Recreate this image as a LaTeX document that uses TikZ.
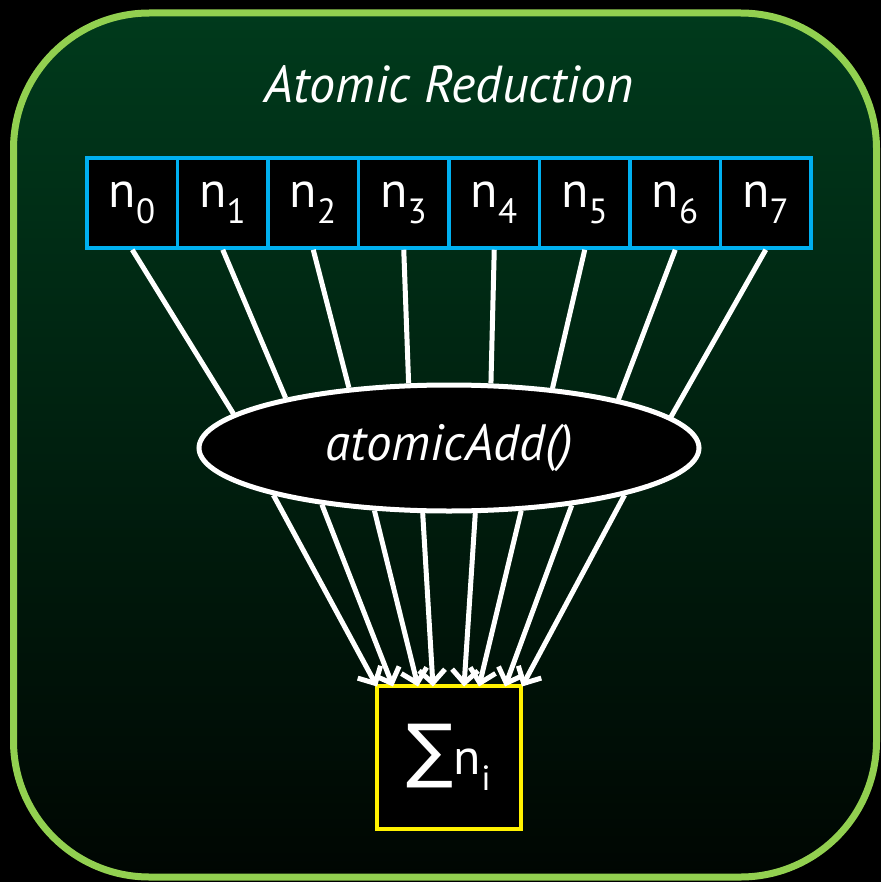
\documentclass[tikz,border=0pt]{standalone}
\usepackage{fontspec}
\setmainfont{PT Sans}
\newfontfamily\sumfont{DejaVu Sans}
\usetikzlibrary{arrows.meta,shapes.geometric,calc}

\definecolor{FrameGreen}{RGB}{146, 208, 80}
\definecolor{DarkGreen}{RGB}{0, 58, 28}
\definecolor{NearBlack}{RGB}{0, 6, 2}
\definecolor{CellBlue}{RGB}{0, 176, 240}
\newcommand{\idx}[1]{\textsubscript{#1}}

\begin{document}
\begin{tikzpicture}[x=1pt, y=-1pt,
                frame/.style={draw=FrameGreen, line width=7pt, rounded corners=136pt, top color=DarkGreen, bottom color=NearBlack},
                cell/.style={draw=CellBlue, line width=3.5pt, fill=black, text=white, minimum width=90.5pt, minimum height=90pt, inner sep=0pt, font=\fontsize{50}{54}\selectfont},
                op/.style={ellipse, draw=white, line width=5pt, fill=black, text=white, minimum width=500pt, minimum height=126pt, inner sep=0pt, font=\fontsize{51}{55}\selectfont\itshape},
                result/.style={draw=yellow, line width=4pt, fill=black, text=white, minimum width=144pt, minimum height=143pt, inner sep=0pt},
                wire/.style={white, line width=5pt},
                flow/.style={-{Straight Barb[length=13pt, width=26pt]}, white, line width=5pt}
            ]
                \useasboundingbox[fill=black] (0,0) rectangle (881,882);
                \path[frame] (13.5,13) rectangle (876.5,877);

                % Title
                \node[text=white, font=\fontsize{52}{56}\selectfont\itshape] (title) at (449,84) {Atomic Reduction};

                % Input values
                \node[cell] (n0) at (132.25,203) {n\idx{0}};
                \node[cell] (n1) at (222.75,203) {n\idx{1}};
                \node[cell] (n2) at (313.25,203) {n\idx{2}};
                \node[cell] (n3) at (403.75,203) {n\idx{3}};
                \node[cell] (n4) at (494.25,203) {n\idx{4}};
                \node[cell] (n5) at (584.75,203) {n\idx{5}};
                \node[cell] (n6) at (675.25,203) {n\idx{6}};
                \node[cell] (n7) at (765.75,203) {n\idx{7}};

                % Atomic operation
                \node[op] (add) at (449,448) {atomicAdd()};

                % Result
                \node[result] (sum) at (449,757) {{\sumfont\fontsize{70}{74}\selectfont ∑}{\fontsize{50}{54}\selectfont n\idx{i}}};

                % Inputs to atomicAdd
                \draw[wire] (n0.south) -- (add.171.5);
                \draw[wire] (n1.south) -- (add.163.9);
                \draw[wire] (n2.south) -- (add.149.5);
                \draw[wire] (n3.south) -- (add.122.2);
                \draw[wire] (n4.south) -- (add.57.8);
                \draw[wire] (n5.south) -- (add.30.5);
                \draw[wire] (n6.south) -- (add.16.1);
                \draw[wire] (n7.south) -- (add.8.5);

                % atomicAdd to sum
                \draw[flow] (add.195) -- ([xshift=-72pt, yshift=-3pt]sum.north);
                \draw[flow] (add.204.5) -- ([xshift=-56pt, yshift=-3pt]sum.north);
                \draw[flow] (add.220.5) -- ([xshift=-31pt, yshift=-3pt]sum.north);
                \draw[flow] (add.248) -- ([xshift=-16pt, yshift=-3pt]sum.north);
                \draw[flow] (add.292) -- ([xshift=15pt, yshift=-3pt]sum.north);
                \draw[flow] (add.319.5) -- ([xshift=30pt, yshift=-3pt]sum.north);
                \draw[flow] (add.335.5) -- ([xshift=56pt, yshift=-3pt]sum.north);
                \draw[flow] (add.345) -- ([xshift=73pt, yshift=-3pt]sum.north);
            \end{tikzpicture}
\end{document}
